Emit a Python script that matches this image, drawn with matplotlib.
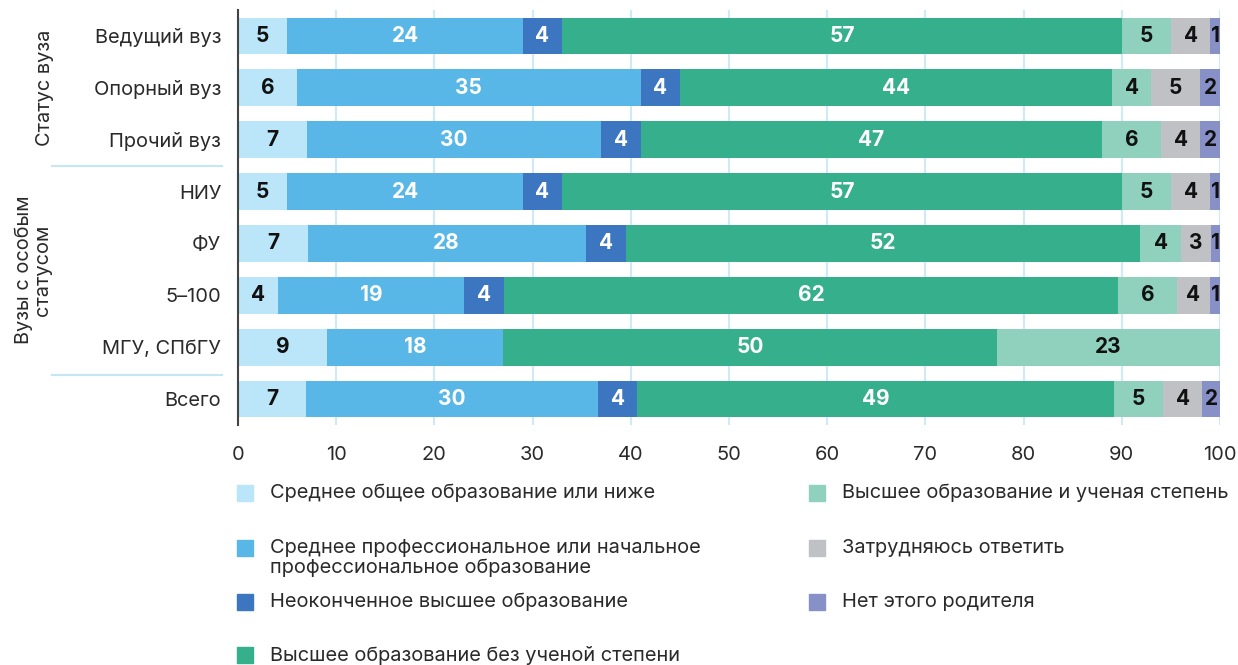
import numpy as np
import matplotlib.pyplot as plt
from matplotlib.patches import Rectangle

plt.rcParams['font.family'] = ['Inter', 'DejaVu Sans']

rows = ['Ведущий вуз', 'Опорный вуз', 'Прочий вуз', 'НИУ', 'ФУ', '5–100', 'МГУ, СПбГУ', 'Всего']
series = ['Среднее общее образование или ниже',
          'Среднее профессиональное или начальное\nпрофессиональное образование',
          'Неоконченное высшее образование',
          'Высшее образование без ученой степени',
          'Высшее образование и ученая степень',
          'Затрудняюсь ответить',
          'Нет этого родителя']
colors = ['#bbe5f8', '#58b7e7', '#3d76c0', '#36af8d', '#8fd1bd', '#bfc1c4', '#8890c8']
text_colors = ['#111111', 'white', 'white', 'white', '#111111', '#111111', '#111111']

# values per series, one number per row
school = [5, 6, 7, 5, 7.1, 4.1, 9.1, 6.9]
vocational = [24, 35, 30, 24, 28.3, 18.9, 17.9, 29.8]
unfinished = [4, 4, 4, 4, 4.1, 4.1, 0, 3.9]
higher = [57, 44, 47, 57, 52.4, 62.5, 50.3, 48.6]
degree = [5, 4, 6, 5, 4.1, 6, 22.7, 5]
dontknow = [4, 5, 4, 4, 3.1, 3.4, 0, 4]
noparent = [1, 2, 2, 1, 0.9, 1, 0, 1.8]
labels = [
    [5, 24, 4, 57, 5, 4, 1],
    [6, 35, 4, 44, 4, 5, 2],
    [7, 30, 4, 47, 6, 4, 2],
    [5, 24, 4, 57, 5, 4, 1],
    [7, 28, 4, 52, 4, 3, 1],
    [4, 19, 4, 62, 6, 4, 1],
    [9, 18, 0, 50, 23, 0, 0],
    [7, 30, 4, 49, 5, 4, 2],
]

data = np.array([school, vocational, unfinished, higher, degree, dontknow, noparent])

fig = plt.figure(figsize=(12.38, 6.65), dpi=100)
ax = fig.add_axes([238/1238, 1-425/665, (1220-238)/1238, (425-10)/665])

y = np.arange(len(rows))
left = np.zeros(len(rows))
for i in range(len(series)):
    ax.barh(y, data[i], left=left, height=0.71, color=colors[i], zorder=2)
    for j in range(len(rows)):
        if labels[j][i] > 0:
            ax.text(left[j] + data[i][j]/2, y[j], str(labels[j][i]), ha='center', va='center',
                    color=text_colors[i], fontsize=15, fontweight='bold', zorder=3)
    left = left + data[i]

ax.set_xlim(0, 100)
ax.set_ylim(7.5, -0.5)
ax.set_xticks(np.arange(0, 101, 10))
ax.set_yticks(y)
ax.set_yticklabels(rows)
ax.tick_params(axis='both', length=0, labelsize=14.4, colors='#2a2a2a')
ax.tick_params(axis='x', pad=15)
ax.tick_params(axis='y', pad=12)
ax.grid(axis='x', color='#cfe9f7', linewidth=1.5, zorder=0)
for s in ['top', 'right', 'bottom']:
    ax.spines[s].set_visible(False)
ax.spines['left'].set_color('#444444')
ax.spines['left'].set_linewidth(1.5)

# group labels and separators
fig.text(45/1238, 1-88/665, 'Статус вуза', rotation=90, ha='center', va='center', fontsize=14.4, color='#2a2a2a')
fig.text(33/1238, 1-270/665, 'Вузы с особым\nстатусом', rotation=90, ha='center', va='center',
         fontsize=14.4, color='#2a2a2a', linespacing=1.05, multialignment='center')
for yy in [166, 375]:
    fig.add_artist(plt.Line2D([52/1238, 222/1238], [1-yy/665, 1-yy/665], color='#c5e6f5', linewidth=1.5))

# legend
pos = [(237, 493), (237, 548), (237, 602), (237, 655), (809, 493), (809, 548), (809, 602)]
for i, (px, py) in enumerate(pos):
    fig.add_artist(Rectangle((px/1238, 1-(py+8)/665), 16/1238, 16/665, color=colors[i],
                             transform=fig.transFigure))
    fig.text((px+33)/1238, 1-(py-9)/665, series[i], ha='left', va='top', fontsize=14.4,
             color='#2a2a2a', linespacing=1.1)

fig.savefig('out.png', dpi=100)
